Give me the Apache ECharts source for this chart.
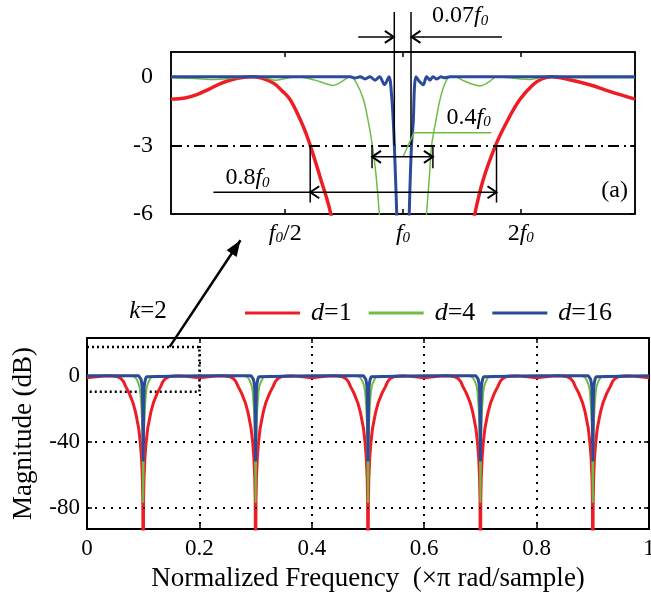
<!DOCTYPE html>
<html><head><meta charset="utf-8">
<script src="https://cdn.jsdelivr.net/npm/echarts@6/dist/echarts.min.js"></script>
<style>html,body{margin:0;padding:0;background:#fff}#c{width:651px;height:598px}</style>
</head><body><div id="c"></div>
<script>
// ---------------- data ----------------
// main plot: notch centres (normalized frequency) and the notch profile
// (offset from the notch centre -> magnitude in dB) of each curve
const notchCenters = [0.1, 0.3, 0.5, 0.7, 0.9];
const redOffsets   = [0, 0.0007, 0.0015, 0.003, 0.0053, 0.008, 0.011, 0.014, 0.018, 0.025, 0.031, 0.035, 0.04, 0.045, 0.055, 0.065, 0.08, 0.1];
const redDb        = [-140, -75, -62, -50, -40, -32, -26.6, -21.5, -16.5, -10.5, -6.5, -3.5, -1.5, -0.6, -0.1, 0, -0.4, -1.2];
const greenOffsets = [0, 0.0002, 0.0006, 0.0012, 0.002, 0.003, 0.005, 0.0066, 0.0085, 0.011, 0.014, 0.018, 0.025, 0.035, 0.05, 0.1];
const greenDb      = [-77, -70, -55, -40, -28, -20, -10, -6.5, -4.5, -2.5, -0.8, -0.3, 0, -0.3, 0, -0.05];
const blueOffsets  = [0, 0.0004, 0.0008, 0.0012, 0.0018, 0.0028, 0.004, 0.0057, 0.008, 0.1];
const blueDb       = [-52, -35, -20, -12, -6.5, -4, -2, -0.5, 0, 0];

const xTickValues = [0, 0.2, 0.4, 0.6, 0.8, 1];
const xTickLabels = ['0', '0.2', '0.4', '0.6', '0.8', '1'];
const yTickValues = [-80, -40, 0];
const yTickLabels = ['-80', '-40', '0'];
const zoomBoxX = [0, 0.2];
const zoomBoxY = [-9.7, 17.6];

// inset (a): x in octaves relative to f0, y in dB
const insetRedOct = [-1.97, -1.85, -1.75, -1.65, -1.55, -1.45, -1.35, -1.288, -1.2, -1.1, -1.03, -0.958, -0.845, -0.788, -0.703, -0.613, -0.551, 0, 0.542, 0.61, 0.681, 0.786, 0.879, 0.992, 1.104, 1.178, 1.26, 1.415, 1.585, 1.754, 1.97];
const insetRedDb  = [-0.98, -0.93, -0.78, -0.55, -0.3, -0.12, -0.02, 0, -0.06, -0.28, -0.6, -1.0, -2.2, -3, -4.4, -6, -8, -40, -8, -6, -4.5, -3, -2, -1, -0.35, -0.1, 0, -0.13, -0.35, -0.64, -0.98];
const insetGreenOct = [-1.97, -1.763, -1.61, -1.424, -1.297, -1.17, -1.085, -1.0, -0.9, -0.746, -0.66, -0.593, -0.53, -0.449, -0.398, -0.336, -0.297, -0.26, -0.229, -0.201, -0.153, 0, 0.153, 0.2, 0.225, 0.243, 0.28, 0.314, 0.356, 0.398, 0.44, 0.525, 0.653, 0.737, 0.794, 0.907, 1.0, 1.076, 1.16, 1.246, 1.5, 1.97];
const insetGreenDb  = [-0.05, -0.08, -0.12, -0.05, 0, -0.05, -0.15, -0.08, 0, -0.15, -0.3, -0.38, -0.25, 0, -0.25, -1, -1.9, -3, -4.3, -6, -10, -40, -10, -6, -4.3, -3, -1.9, -1, -0.3, 0, 0, -0.2, -0.4, -0.2, 0, -0.05, -0.1, -0.12, -0.05, 0, -0.05, -0.05];
const insetBlueOct = [-1.97, -0.449, -0.407, -0.364, -0.322, -0.28, -0.237, -0.199, -0.157, -0.119, -0.097, -0.082, -0.072, -0.053, -0.042, 0, 0.047, 0.053, 0.072, 0.087, 0.097, 0.11, 0.138, 0.172, 0.2, 0.229, 0.254, 0.288, 0.322, 0.356, 0.398, 1.97];
const insetBlueDb  = [0, 0, -0.06, 0, -0.1, 0, -0.15, 0, -0.35, 0, -0.8, -2, -3.2, -6, -8, -40, -8, -6, -3, -2, -0.5, 0, -0.2, -0.35, 0, -0.15, 0, -0.1, 0, -0.05, 0, 0];
const insetXTickValues = [-1, 0, 1];
const insetXTickLabels = ['{f|f}{s|0}{n|/2}', '{f|f}{s|0}', '{n|2}{f|f}{s|0}'];
const insetYTickValues = [-6, -3, 0];
const seriesNames = ['d=1', 'd=4', 'd=16'];

// ---------------- build ----------------
const FONT = '"Liberation Serif", "Times New Roman", serif';
const RED = '#ee1d25', GREEN = '#6dbd45', BLUE = '#2b4a9c';

function buildComb(offsets, db) {
  const pts = [];
  notchCenters.forEach(c => {
    for (let i = offsets.length - 1; i >= 1; i--) pts.push([c - offsets[i], db[i]]);
    pts.push([c, db[0]]);
    for (let i = 1; i < offsets.length; i++) pts.push([c + offsets[i], db[i]]);
  });
  return pts;
}
const zip = (a, b) => a.map((v, i) => [v, b[i]]);

const richMath = {
  n: { fontFamily: FONT, fontSize: 24, color: '#000' },
  f: { fontFamily: FONT, fontSize: 24, fontStyle: 'italic', color: '#000' },
  s: { fontFamily: FONT, fontSize: 15, fontStyle: 'italic', color: '#000', padding: [9, 0, 0, 0] }
};

const chart = echarts.init(document.getElementById('c'));
const black = '#000';
const boxAxisLine = w => ({ show: true, onZero: false, lineStyle: { color: black, width: w } });

const option = {
  animation: false,
  backgroundColor: '#fff',
  grid: [
    { left: 87, right: 2, top: 338, bottom: 69, show: true, borderColor: black, borderWidth: 2, containLabel: false, outerBoundsMode: 'none' },
    { left: 171, right: 16, top: 52, bottom: 384, show: true, borderColor: black, borderWidth: 1.5, containLabel: false, outerBoundsMode: 'none' }
  ],
  legend: {
    data: seriesNames,
    left: 240, top: 295,
    icon: 'rect', itemWidth: 55, itemHeight: 3, itemGap: 17,
    formatter: name => { const p = name.split('='); return '{i|' + p[0] + '}{n|=' + p[1] + '}'; },
    textStyle: {
      padding: [0, 0, 0, 6],
      rich: {
        i: { fontFamily: FONT, fontSize: 26, fontStyle: 'italic', color: black },
        n: { fontFamily: FONT, fontSize: 26, color: black }
      }
    }
  },
  xAxis: [
    { gridIndex: 0, type: 'value', min: 0, max: 1, interval: 0.2,
      axisLine: boxAxisLine(2),
      axisTick: { inside: true, length: 5, lineStyle: { color: black, width: 1.5 } },
      axisLabel: { color: black, fontFamily: FONT, fontSize: 23, margin: 8,
        formatter: v => xTickLabels[xTickValues.findIndex(t => Math.abs(t - v) < 1e-9)] },
      splitLine: { show: true, lineStyle: { color: black, type: [2, 6], width: 2 } },
      name: 'Normalized Frequency  (×π rad/sample)', nameLocation: 'middle', nameGap: 36,
      nameTextStyle: { color: black, fontFamily: FONT, fontSize: 27 } },
    { gridIndex: 0, type: 'value', min: 0, max: 1, interval: 0.2, position: 'top',
      axisLine: boxAxisLine(2),
      axisTick: { inside: true, length: 5, lineStyle: { color: black, width: 1.5 } },
      axisLabel: { show: false }, splitLine: { show: false } },
    { gridIndex: 1, type: 'value', min: -1.97, max: 1.97,
      axisLine: boxAxisLine(1.5),
      axisTick: { inside: true, length: 5, customValues: insetXTickValues, lineStyle: { color: black, width: 1.5 } },
      axisLabel: { customValues: insetXTickValues, margin: 8,
        formatter: v => insetXTickLabels[insetXTickValues.indexOf(v)], rich: richMath },
      splitLine: { show: false } },
    { gridIndex: 1, type: 'value', min: -1.97, max: 1.97, position: 'top',
      axisLine: boxAxisLine(1.5),
      axisTick: { inside: true, length: 5, customValues: insetXTickValues, lineStyle: { color: black, width: 1.5 } },
      axisLabel: { show: false }, splitLine: { show: false } }
  ],
  yAxis: [
    { gridIndex: 0, type: 'value', min: -93, max: 23,
      axisLine: boxAxisLine(2),
      axisTick: { inside: true, length: 5, customValues: yTickValues, lineStyle: { color: black, width: 1.5 } },
      axisLabel: { customValues: yTickValues, color: black, fontFamily: FONT, fontSize: 23, margin: 7,
        formatter: v => yTickLabels[yTickValues.indexOf(v)] },
      splitLine: { show: false },
      name: 'Magnitude (dB)', nameLocation: 'middle', nameGap: 50,
      nameTextStyle: { color: black, fontFamily: FONT, fontSize: 27 } },
    { gridIndex: 0, type: 'value', min: -93, max: 23, position: 'right',
      axisLine: boxAxisLine(2),
      axisTick: { inside: true, length: 5, customValues: yTickValues, lineStyle: { color: black, width: 1.5 } },
      axisLabel: { show: false }, splitLine: { show: false } },
    { gridIndex: 1, type: 'value', min: -6, max: 1.08,
      axisLine: boxAxisLine(1.5),
      axisTick: { inside: true, length: 5, customValues: insetYTickValues, lineStyle: { color: black, width: 1.5 } },
      axisLabel: { customValues: insetYTickValues, color: black, fontFamily: FONT, fontSize: 24, margin: 18 },
      splitLine: { show: false } },
    { gridIndex: 1, type: 'value', min: -6, max: 1.08, position: 'right',
      axisLine: boxAxisLine(1.5),
      axisTick: { inside: true, length: 5, customValues: insetYTickValues, lineStyle: { color: black, width: 1.5 } },
      axisLabel: { show: false }, splitLine: { show: false } }
  ],
  series: [
    { name: 'zoombox', type: 'line', xAxisIndex: 0, yAxisIndex: 0, z: 1, silent: true, showSymbol: false,
      data: [[zoomBoxX[0], zoomBoxY[1]], [zoomBoxX[1], zoomBoxY[1]], [zoomBoxX[1], zoomBoxY[0]], [zoomBoxX[0], zoomBoxY[0]]],
      lineStyle: { color: black, width: 2.5, type: [2, 3] },
      markLine: { silent: true, symbol: 'none', label: { show: false },
        lineStyle: { color: black, type: [2, 6], width: 2 },
        data: [{ yAxis: yTickValues[0] }, { yAxis: yTickValues[1] }] } },
    { name: seriesNames[0], type: 'line', xAxisIndex: 0, yAxisIndex: 0, z: 3, showSymbol: false,
      color: RED, lineStyle: { width: 3 }, data: buildComb(redOffsets, redDb) },
    { name: seriesNames[1], type: 'line', xAxisIndex: 0, yAxisIndex: 0, z: 4, showSymbol: false,
      color: GREEN, lineStyle: { width: 2 }, data: buildComb(greenOffsets, greenDb) },
    { name: seriesNames[2], type: 'line', xAxisIndex: 0, yAxisIndex: 0, z: 5, showSymbol: false,
      color: BLUE, lineStyle: { width: 3 }, data: buildComb(blueOffsets, blueDb) },
    { name: seriesNames[0], type: 'line', xAxisIndex: 2, yAxisIndex: 2, z: 3, showSymbol: false, smooth: 0.4,
      color: RED, lineStyle: { width: 3.5 }, data: zip(insetRedOct, insetRedDb),
      markLine: { silent: true, symbol: 'none', label: { show: false },
        lineStyle: { color: black, type: [11, 5, 2, 5], width: 2 },
        data: [{ yAxis: insetYTickValues[1] }] } },
    { name: seriesNames[1], type: 'line', xAxisIndex: 2, yAxisIndex: 2, z: 4, showSymbol: false, smooth: 0.3,
      color: GREEN, lineStyle: { width: 1.5 }, data: zip(insetGreenOct, insetGreenDb) },
    { name: seriesNames[2], type: 'line', xAxisIndex: 2, yAxisIndex: 2, z: 5, showSymbol: false, smooth: 0.3,
      color: BLUE, lineStyle: { width: 3 }, data: zip(insetBlueOct, insetBlueDb) }
  ]
};
chart.setOption(option);

// ---------------- annotations ----------------
const pI = (x, y) => chart.convertToPixel({ xAxisIndex: 2, yAxisIndex: 2 }, [x, y]);
const pM = (x, y) => chart.convertToPixel({ xAxisIndex: 0, yAxisIndex: 0 }, [x, y]);
const g = [];
function seg(a, b, color, w) {
  g.push({ type: 'polyline', silent: true, z: 50, shape: { points: [a, b] }, style: { stroke: color || black, lineWidth: w || 1.5, fill: null } });
}
function poly(pts, color, w) {
  g.push({ type: 'polyline', silent: true, z: 50, shape: { points: pts }, style: { stroke: color || black, lineWidth: w || 1.5, fill: null } });
}
function chevron(tail, tip, L, W) {
  const dx = tip[0] - tail[0], dy = tip[1] - tail[1], d = Math.hypot(dx, dy);
  const ux = dx / d, uy = dy / d, nx = -uy, ny = ux;
  poly([[tip[0] - L * ux + W * nx, tip[1] - L * uy + W * ny], tip, [tip[0] - L * ux - W * nx, tip[1] - L * uy - W * ny]], black, 2);
}
function text(p, rich, str, align) {
  g.push({ type: 'text', silent: true, z: 50, x: p[0], y: p[1],
    style: { text: str, rich: rich, textAlign: align || 'left', textVerticalAlign: 'middle', fill: black, font: '24px ' + FONT } });
}

// 0.07 f0 (blue -3 dB width)
const b07 = { xl: -0.074, xr: 0.068, yTop: 2.83, yArrow: 1.74 };
seg(pI(b07.xl, -3), pI(b07.xl, b07.yTop));
seg(pI(b07.xr, -3), pI(b07.xr, b07.yTop));
seg(pI(-0.38, b07.yArrow), pI(b07.xl - 0.004, b07.yArrow));
chevron(pI(-0.38, b07.yArrow), pI(b07.xl - 0.004, b07.yArrow), 9, 6);
seg(pI(0.84, b07.yArrow), pI(b07.xr + 0.004, b07.yArrow));
chevron(pI(0.84, b07.yArrow), pI(b07.xr + 0.004, b07.yArrow), 9, 6);
text(pI(0.246, 2.65), richMath, '{n|0.07}{f|f}{s|0}');

// 0.4 f0 (green -3 dB width)
poly([pI(0, -3.5), pI(0.093, -2.45), pI(0.75, -2.45)], GREEN, 1.5);
text(pI(0.37, -1.8), richMath, '{n|0.4}{f|f}{s|0}');
seg(pI(-0.263, -3.5), pI(0.254, -3.5));
chevron(pI(0, -3.5), pI(-0.263, -3.5), 9, 6);
chevron(pI(0, -3.5), pI(0.254, -3.5), 9, 6);
seg(pI(-0.263, -3), pI(-0.263, -4));
seg(pI(0.254, -3), pI(0.254, -4));

// 0.8 f0 (red -3 dB width)
seg(pI(-0.788, -3), pI(-0.788, -5.5));
seg(pI(0.794, -3), pI(0.794, -5.5));
seg(pI(-1.61, -5.05), pI(0.794, -5.05));
chevron(pI(0, -5.05), pI(-0.788, -5.05), 9, 6);
chevron(pI(0, -5.05), pI(0.794, -5.05), 9, 6);
text(pI(-1.508, -4.43), richMath, '{n|0.8}{f|f}{s|0}');

// (a)
text(pI(1.797, -4.96), richMath, '{n|(a)}', 'center');

// big arrow from the zoom box to the inset
const aTail = pM(0.147, zoomBoxY[1]);
const aTip = pI(-1.38, -7.15);
seg(aTail, aTip, black, 2.5);
(function () {
  const dx = aTip[0] - aTail[0], dy = aTip[1] - aTail[1], d = Math.hypot(dx, dy);
  const ux = dx / d, uy = dy / d, nx = -uy, ny = ux, L = 16, W = 6;
  g.push({ type: 'polygon', silent: true, z: 51, shape: { points: [aTip,
    [aTip[0] - L * ux + W * nx, aTip[1] - L * uy + W * ny],
    [aTip[0] - L * ux - W * nx, aTip[1] - L * uy - W * ny]] }, style: { fill: black } });
})();

// k = 2
g.push({ type: 'text', silent: true, z: 50, x: 148, y: 311,
  style: { text: '{i|k}{n|=2}', textAlign: 'center', textVerticalAlign: 'middle',
    rich: { i: { fontFamily: FONT, fontSize: 25, fontStyle: 'italic', fill: black }, n: { fontFamily: FONT, fontSize: 25, fill: black } } } });

chart.setOption({ graphic: g });
</script></body></html>
